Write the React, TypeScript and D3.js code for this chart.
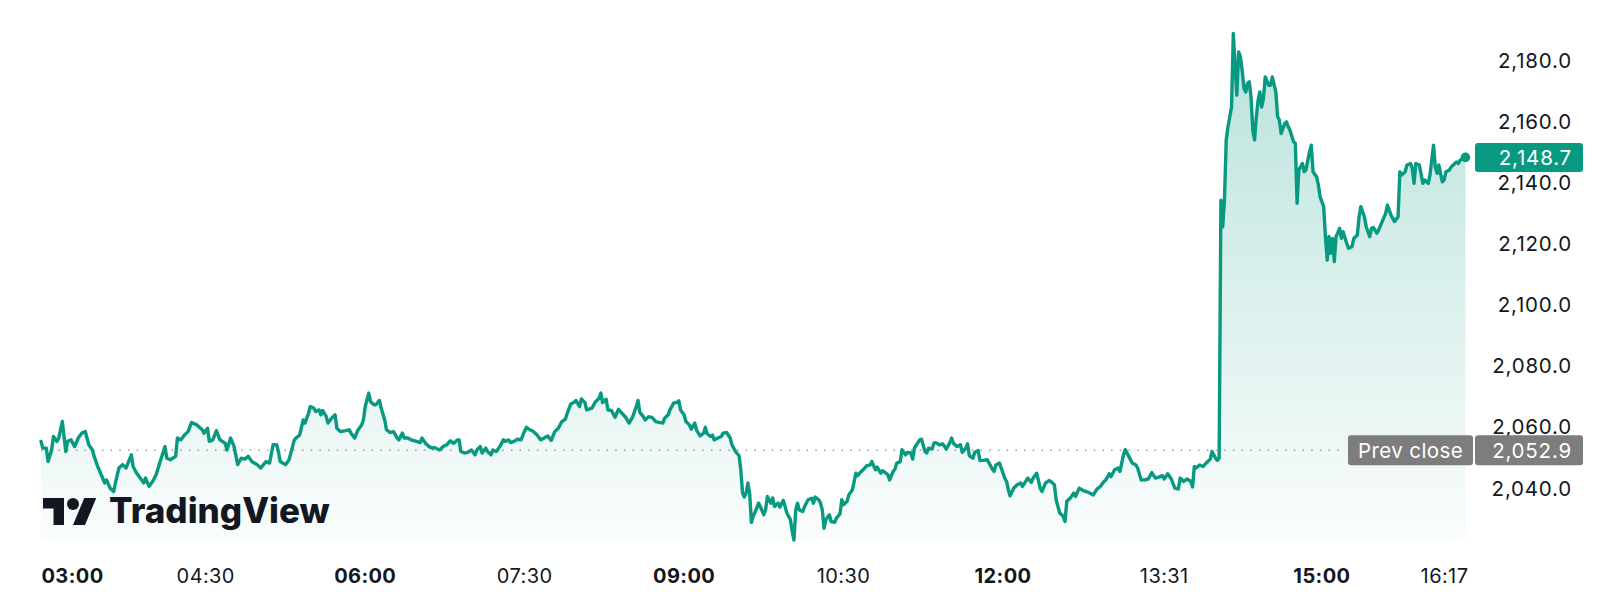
import React from "react";
import * as d3 from "d3";

const times = [
  "02:57","02:58","03:00","03:01","03:03","03:04","03:06","03:07","03:09","03:11",
  "03:12","03:14","03:16","03:18","03:20","03:22","03:24","03:26","03:27","03:29",
  "03:31","03:33","03:34","03:36","03:38","03:39","03:41","03:43","03:45","03:48",
  "03:49","03:51","03:53","03:55","03:56","03:58","04:00","04:02","04:04","04:07",
  "04:08","04:10","04:13","04:14","04:16","04:18","04:20","04:22","04:25","04:28",
  "04:29","04:31","04:32","04:34","04:36","04:38","04:41","04:42","04:44","04:46",
  "04:48","04:50","04:52","04:54","04:56","04:59","05:01","05:04","05:06","05:08",
  "05:10","05:11","05:12","05:15","05:17","05:19","05:20","05:21","05:23","05:25",
  "05:26","05:28","05:29","05:31","05:32","05:34","05:35","05:36","05:38","05:39",
  "05:41","05:43","05:44","05:46","05:49","05:51","05:52","05:54","05:56","05:58",
  "05:59","06:00","06:02","06:03","06:05","06:06","06:08","06:09","06:11","06:12",
  "06:14","06:16","06:18","06:19","06:21","06:22","06:24","06:26","06:29","06:31",
  "06:32","06:34","06:36","06:38","06:39","06:42","06:44","06:46","06:48","06:50",
  "06:52","06:53","06:54","06:56","06:58","07:00","07:02","07:03","07:05","07:06",
  "07:08","07:09","07:11","07:12","07:14","07:16","07:18","07:19","07:21","07:22",
  "07:24","07:26","07:28","07:29","07:31","07:33","07:35","07:37","07:39","07:41",
  "07:43","07:45","07:47","07:49","07:51","07:53","07:54","07:56","07:58","07:59",
  "08:01","08:02","08:04","08:05","08:08","08:10","08:12","08:13","08:14","08:16",
  "08:17","08:19","08:21","08:23","08:25","08:27","08:29","08:31","08:33","08:34",
  "08:35","08:37","08:38","08:40","08:42","08:44","08:46","08:48","08:49","08:51",
  "08:52","08:54","08:56","08:57","08:58","09:00","09:01","09:03","09:04","09:06",
  "09:07","09:09","09:11","09:12","09:13","09:15","09:16","09:17","09:19","09:21",
  "09:22","09:24","09:26","09:27","09:29","09:31","09:32","09:33","09:34","09:35",
  "09:36","09:37","09:38","09:39","09:41","09:42","09:43","09:45","09:46","09:47",
  "09:49","09:50","09:51","09:53","09:54","09:56","09:57","09:58","10:00","10:01",
  "10:02","10:03","10:04","10:05","10:07","10:08","10:10","10:12","10:13","10:14",
  "10:16","10:17","10:18","10:19","10:20","10:22","10:23","10:25","10:26","10:28",
  "10:29","10:30","10:32","10:33","10:35","10:36","10:37","10:38","10:39","10:41",
  "10:43","10:45","10:46","10:48","10:49","10:51","10:52","10:54","10:55","10:56",
  "10:58","10:59","11:00","11:02","11:03","11:05","11:06","11:08","11:09","11:10",
  "11:12","11:13","11:14","11:16","11:17","11:18","11:20","11:21","11:22","11:24",
  "11:26","11:28","11:30","11:31","11:32","11:34","11:36","11:37","11:39","11:40",
  "11:41","11:43","11:44","11:46","11:47","11:49","11:51","11:52","11:54","11:55",
  "11:56","11:58","11:59","12:01","12:02","12:03","12:04","12:06","12:08","12:10",
  "12:11","12:14","12:16","12:17","12:19","12:21","12:22","12:24","12:26","12:27",
  "12:29","12:30","12:32","12:34","12:35","12:36","12:38","12:40","12:41","12:43",
  "12:45","12:47","12:49","12:51","12:53","12:55","12:57","12:58","13:00","13:01",
  "13:03","13:05","13:06","13:08","13:09","13:11","13:13","13:15","13:16","13:18",
  "13:20","13:22","13:24","13:26","13:28","13:30","13:31","13:33","13:35","13:37",
  "13:39","13:40","13:42","13:44","13:46","13:47","13:48","13:49","13:51","13:53",
  "13:55","13:57","13:58","14:00","14:01","14:02","14:03","14:04","14:05","14:06",
  "14:07","14:09","14:10","14:11","14:12","14:13","14:14","14:15","14:16","14:17",
  "14:18","14:19","14:20","14:21","14:22","14:23","14:24","14:25","14:26","14:27",
  "14:28","14:30","14:31","14:32","14:34","14:35","14:36","14:37","14:39","14:40",
  "14:41","14:42","14:44","14:45","14:46","14:47","14:49","14:50","14:51","14:53",
  "14:54","14:55","14:57","14:58","14:59","15:01","15:02","15:03","15:04","15:05",
  "15:06","15:07","15:08","15:10","15:11","15:12","15:14","15:15","15:17","15:18",
  "15:20","15:21","15:22","15:24","15:25","15:27","15:28","15:29","15:31","15:32",
  "15:34","15:36","15:37","15:39","15:41","15:43","15:44","15:45","15:47","15:48",
  "15:50","15:51","15:52","15:53","15:55","15:57","15:58","16:00","16:01","16:03",
  "16:04","16:05","16:06","16:08","16:09","16:10","16:12","16:13","16:15","16:16",
  "16:17","16:18","16:20","16:21",
];

const prices = [
  2055.8,2053.6,2053.6,2049.2,2053.0,2057.4,2055.8,2056.9,2062.3,2052.5,
  2055.8,2056.3,2054.1,2056.9,2058.5,2059.0,2054.7,2053.0,2050.9,2047.6,
  2044.9,2042.2,2043.2,2040.5,2039.4,2042.2,2047.1,2048.2,2047.1,2051.4,
  2047.6,2045.4,2043.8,2042.2,2043.8,2041.1,2042.7,2044.9,2048.7,2054.1,
  2050.3,2049.8,2050.9,2056.9,2056.3,2057.9,2059.0,2062.0,2061.2,2059.6,
  2058.5,2060.1,2055.8,2056.3,2059.3,2056.3,2055.2,2053.0,2056.9,2054.1,
  2048.2,2050.3,2050.0,2050.9,2049.2,2048.2,2047.1,2049.2,2048.7,2054.7,
  2054.7,2052.5,2049.2,2048.2,2049.8,2054.1,2056.3,2056.9,2057.9,2062.8,
  2061.8,2065.0,2067.2,2066.7,2065.6,2066.1,2064.5,2065.9,2063.9,2061.8,
  2063.4,2064.5,2060.1,2059.0,2059.3,2059.6,2058.5,2056.9,2059.6,2061.2,
  2062.8,2067.2,2071.6,2068.8,2067.8,2067.8,2069.2,2066.7,2062.8,2059.6,
  2058.7,2059.0,2056.9,2056.3,2058.5,2056.9,2056.9,2056.3,2055.8,2055.4,
  2056.9,2055.2,2054.1,2053.6,2053.8,2053.0,2054.1,2054.7,2056.0,2055.2,
  2056.3,2056.3,2052.5,2052.0,2052.2,2053.0,2051.4,2053.0,2054.1,2052.0,
  2053.6,2052.5,2051.4,2053.0,2052.5,2054.1,2056.3,2055.8,2056.3,2055.4,
  2055.8,2056.5,2056.3,2057.9,2060.4,2059.6,2059.0,2057.9,2056.3,2056.9,
  2057.6,2056.1,2059.0,2060.1,2062.3,2063.1,2065.0,2068.0,2068.6,2069.2,
  2067.2,2069.7,2068.5,2066.1,2066.7,2068.8,2069.9,2071.6,2068.5,2069.6,
  2066.1,2065.9,2063.7,2066.3,2065.0,2063.7,2061.8,2063.9,2067.2,2069.2,
  2065.3,2063.9,2062.8,2063.9,2063.6,2062.3,2062.0,2061.8,2063.4,2064.5,
  2066.1,2068.3,2068.6,2069.1,2066.1,2064.5,2062.3,2061.2,2059.8,2061.8,
  2059.6,2057.6,2058.5,2060.4,2058.3,2057.4,2057.9,2056.3,2056.9,2057.4,
  2058.5,2058.7,2056.9,2054.7,2052.5,2051.1,2046.5,2038.9,2037.6,2038.9,
  2042.2,2038.7,2029.3,2031.3,2034.0,2035.6,2034.5,2031.8,2033.4,2037.8,
  2035.6,2037.3,2034.5,2035.6,2034.3,2036.5,2034.5,2032.4,2030.2,2026.4,
  2023.5,2033.4,2035.6,2033.4,2032.9,2034.5,2036.7,2037.2,2035.6,2037.6,
  2036.7,2035.6,2033.4,2027.4,2030.2,2031.8,2029.6,2029.3,2030.7,2032.1,
  2036.7,2035.1,2036.2,2038.3,2040.0,2042.7,2045.4,2044.6,2045.4,2046.5,
  2047.8,2048.1,2049.2,2046.5,2047.4,2045.4,2046.2,2045.4,2044.9,2043.2,
  2046.0,2046.7,2048.7,2049.2,2053.1,2051.4,2052.2,2052.0,2050.0,2053.6,
  2055.4,2056.3,2056.5,2052.5,2052.0,2053.6,2053.3,2055.2,2055.4,2054.7,
  2055.0,2053.3,2055.4,2056.9,2055.2,2054.1,2054.7,2052.2,2053.6,2055.0,
  2051.1,2050.3,2052.2,2052.8,2049.5,2049.6,2049.8,2048.9,2046.7,2046.0,
  2048.1,2048.7,2047.1,2043.8,2042.7,2040.0,2038.0,2040.5,2041.6,2042.2,
  2041.1,2043.8,2042.4,2043.8,2045.4,2040.5,2039.4,2042.2,2043.0,2042.7,
  2041.6,2036.7,2032.4,2031.3,2029.6,2036.2,2037.3,2038.9,2037.8,2040.5,
  2039.8,2039.4,2038.9,2038.3,2040.2,2041.1,2042.7,2043.2,2045.2,2044.3,
  2046.5,2047.1,2046.0,2051.4,2053.1,2050.9,2048.7,2048.1,2047.1,2043.2,
  2043.2,2043.5,2045.6,2043.8,2044.1,2044.6,2043.5,2045.2,2043.5,2040.5,
  2040.2,2043.8,2042.7,2043.5,2042.7,2040.9,2047.6,2047.1,2048.1,2047.6,
  2048.9,2050.0,2052.5,2050.3,2049.6,2050.3,2134.7,2126.0,2134.7,2154.4,
  2158.7,2165.2,2189.2,2178.3,2169.1,2183.2,2181.6,2177.2,2171.3,2170.1,
  2172.9,2173.4,2168.5,2157.6,2154.4,2162.0,2167.4,2170.1,2165.2,2168.0,
  2175.0,2172.3,2172.3,2175.0,2170.1,2162.0,2160.9,2156.5,2159.8,2160.3,
  2158.7,2157.6,2153.8,2153.3,2133.7,2144.6,2146.7,2144.0,2144.6,2150.5,
  2152.7,2144.0,2142.4,2139.7,2135.8,2132.6,2122.8,2115.1,2122.8,2117.3,
  2122.2,2114.6,2122.8,2125.5,2122.2,2124.4,2120.6,2119.0,2119.5,2122.2,
  2123.3,2129.3,2132.6,2129.3,2126.0,2122.8,2125.5,2125.8,2123.9,2124.9,
  2127.7,2130.4,2133.1,2129.8,2127.7,2129.3,2144.0,2142.9,2144.0,2146.2,
  2146.7,2145.1,2140.2,2146.7,2146.2,2140.2,2141.3,2140.2,2142.9,2152.7,
  2145.6,2143.5,2146.2,2140.7,2141.3,2144.0,2144.6,2145.6,2146.7,2147.2,
  2146.7,2147.8,2148.4,2148.7,
];

const priceTicks = [2040, 2060, 2080, 2100, 2120, 2140, 2160, 2180];
const timeTicks = ["03:00","04:30","06:00","07:30","09:00","10:30","12:00","13:31","15:00","16:17"];
const majorTicks = ["03:00","06:00","09:00","12:00","15:00"];
const prevClose = 2052.9;
const lastPrice = 2148.7;
const prevCloseLabel = "Prev close";
const brandName = "TradingView";

const FONT = "Inter, 'Noto Sans', sans-serif";
const GREEN = "#089981";
const TEXT = "#131722";

export default function App() {
  const W = 1600;
  const H = 602;
  const parse = d3.timeParse("%H:%M");
  const data = times.map((t, i) => ({ t: parse(t) as Date, v: prices[i] }));

  const plotLeft = 41;
  const plotRight = 1465.4;
  const axisRight = 1473;
  const plotBottom = 540;

  const x = d3
    .scaleTime()
    .domain(d3.extent(data, (d) => d.t) as [Date, Date])
    .range([plotLeft, plotRight]);
  const y = d3.scaleLinear().domain([2040, 2180]).range([489.7, 61.7]);

  const line = d3
    .line<{ t: Date; v: number }>()
    .x((d) => x(d.t))
    .y((d) => y(d.v));
  const area = d3
    .area<{ t: Date; v: number }>()
    .x((d) => x(d.t))
    .y0(plotBottom)
    .y1((d) => y(d.v));

  const fmt = d3.format(",.1f");
  const last = data[data.length - 1];
  const yLast = y(lastPrice);
  const yPrev = y(prevClose);

  const labelX = (t: string) => {
    const bold = majorTicks.includes(t);
    const w = bold ? 63 : 57;
    let cx = x(parse(t) as Date);
    if (cx - w / 2 < plotLeft) cx = plotLeft + w / 2;
    if (cx + w / 2 > axisRight) cx = axisRight - w / 2;
    return cx;
  };

  return (
    <svg
      width={W}
      height={H}
      viewBox={`0 0 ${W} ${H}`}
      style={{ position: "absolute", left: 0, top: 0, display: "block", background: "#fff" }}
      fontFamily={FONT}
    >
      <defs>
        <linearGradient id="areaGrad" gradientUnits="userSpaceOnUse" x1="0" y1="0" x2="0" y2={plotBottom}>
          <stop offset="0" stopColor={GREEN} stopOpacity={0.3} />
          <stop offset="1" stopColor={GREEN} stopOpacity={0.02} />
        </linearGradient>
      </defs>
      <rect x={0} y={0} width={W} height={H} fill="#fff" />

      <path d={area(data) || ""} fill="url(#areaGrad)" stroke="none" />

      <line
        x1={plotLeft}
        x2={1346}
        y1={yPrev}
        y2={yPrev}
        stroke="#9a9a9a"
        strokeWidth={1.5}
        strokeDasharray="1.5 7.2"
      />

      <path
        d={line(data) || ""}
        fill="none"
        stroke={GREEN}
        strokeWidth={3.4}
        strokeLinejoin="round"
        strokeLinecap="round"
      />
      <circle cx={x(last.t)} cy={yLast} r={4.8} fill={GREEN} />

      {/* price axis labels */}
      {priceTicks.map((p) => (
        <text
          key={p}
          x={1572}
          y={y(p) - 1.7}
          textAnchor="end"
          dominantBaseline="central"
          fontSize={20.5}
          letterSpacing={0.8}
          fill={TEXT}
        >
          {fmt(p)}
        </text>
      ))}

      {/* current price label */}
      <rect x={1475} y={yLast - 14.5} width={108} height={29} rx={3} fill={GREEN} />
      <text x={1572} y={yLast} textAnchor="end" dominantBaseline="central" fontSize={20.5} letterSpacing={0.8} fill="#fff">
        {fmt(lastPrice)}
      </text>

      {/* prev close label */}
      <rect x={1348} y={yPrev - 15} width={125} height={30} rx={3} fill="#7d7d7d" />
      <text x={1410.5} y={yPrev} textAnchor="middle" dominantBaseline="central" fontSize={20.5} letterSpacing={0.4} fill="#fff">
        {prevCloseLabel}
      </text>
      <rect x={1475} y={yPrev - 15} width={108} height={30} rx={3} fill="#7d7d7d" />
      <text x={1572} y={yPrev} textAnchor="end" dominantBaseline="central" fontSize={20.5} letterSpacing={0.8} fill="#fff">
        {fmt(prevClose)}
      </text>

      {/* time axis labels */}
      {timeTicks.map((t) => (
        <text
          key={t}
          x={labelX(t)}
          y={576}
          textAnchor="middle"
          dominantBaseline="central"
          fontSize={20}
          letterSpacing={0.4}
          fontWeight={majorTicks.includes(t) ? 700 : 400}
          fill={TEXT}
        >
          {t}
        </text>
      ))}

      {/* logo */}
      <g transform="translate(43,492) scale(1.5)" fill={TEXT}>
        <path d="M14 22H7V11H0V4h14v18zM28 22h-8l7.5-18h8L28 22z" />
        <circle cx={20} cy={8} r={4} />
      </g>
      <text x={109} y={523} fontSize={35} fontWeight={800} fill={TEXT} letterSpacing={0}>
        {brandName}
      </text>
    </svg>
  );
}
